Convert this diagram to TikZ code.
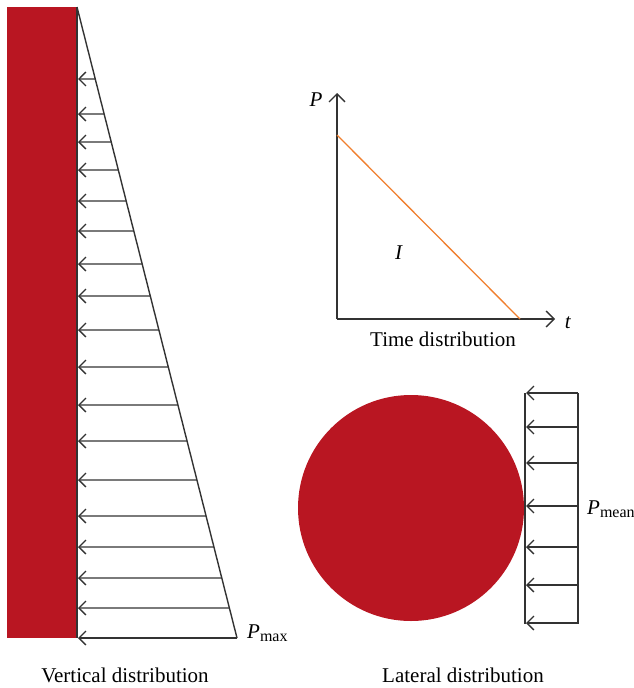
\documentclass[tikz,border=0pt]{standalone}
\usepackage{fontspec}
\setmainfont{Liberation Serif}
\usetikzlibrary{arrows.meta,calc}
\definecolor{wallred}{HTML}{B91622}
\definecolor{lineorange}{HTML}{F07F2E}
\definecolor{arrowgray}{HTML}{333333}
\newcommand{\varsub}[2]{\textit{#1}\raisebox{-0.3ex}{\fontsize{16}{18}\selectfont #2}}
\tikzset{
  load/.style={draw=arrowgray, line width=1.4pt, -{Straight Barb[length=7pt,width=14pt,line width=1.3pt]}},
  frame/.style={draw=arrowgray, line width=1.4pt},
  lbl/.style={font=\fontsize{21}{24}\selectfont, inner sep=0pt},
  axis/.style={draw=arrowgray, line width=1.5pt, -{Straight Barb[length=8pt,width=16pt,line width=1.4pt]}}
}
\begin{document}
\begin{tikzpicture}[x=1pt,y=-1pt]
\useasboundingbox (0,0) rectangle (634,688);
% ---- vertical distribution ----
\fill[wallred] (7,7) rectangle (76,638);
\coordinate (wt) at (77,7);
\coordinate (wb) at (77,638);
\coordinate (tb) at (237,638);
\draw[frame] (wt) -- (wb);
\draw[frame] (wt) -- (tb);
\foreach \yy in {79,114,142,170,201,231,264,296,330,367,405,441,480,516,547,578,608,638}{
  \draw[load] ($(wt)!{(\yy-7)/631}!(tb)$) -- (78,\yy);
}
\node[lbl, anchor=west] (pmax) at (247,633) {\varsub{P}{max}};
\node[lbl] (vlab) at (125,675) {Vertical distribution};
% ---- time distribution ----
\coordinate (o) at (337,319);
\coordinate (py) at (337,93);
\coordinate (tx) at (555,319);
\draw[axis] (o) -- (py);
\draw[axis] (o) -- (tx);
\coordinate (a) at (337,135);
\coordinate (b) at (520,319);
\draw[lineorange, line width=1.3pt] (a) -- (b);
\node[lbl] (plab) at (316,100) {\textit{P}};
\node[lbl] (tlab) at (568,323) {\textit{t}};
\node[lbl] (ilab) at (399,253) {\textit{I}};
\node[lbl] (tdlab) at (443,339) {Time distribution};
% ---- lateral distribution ----
\fill[wallred] (411,508) circle (113);
\coordinate (lt) at (525,393);
\coordinate (lb) at (525,624);
\coordinate (rt) at (578,393);
\coordinate (rb) at (578,624);
\draw[frame] (lt) -- (lb);
\draw[frame] (rt) -- (rb);
\foreach \yy in {393,427,463,506,547,585,623}{
  \draw[load] (578,\yy) -- (526,\yy);
}
\node[lbl, anchor=west] (pmean) at (587,509) {\varsub{P}{mean}};
\node[lbl] (llab) at (463,675) {Lateral distribution};
\end{tikzpicture}
\end{document}
